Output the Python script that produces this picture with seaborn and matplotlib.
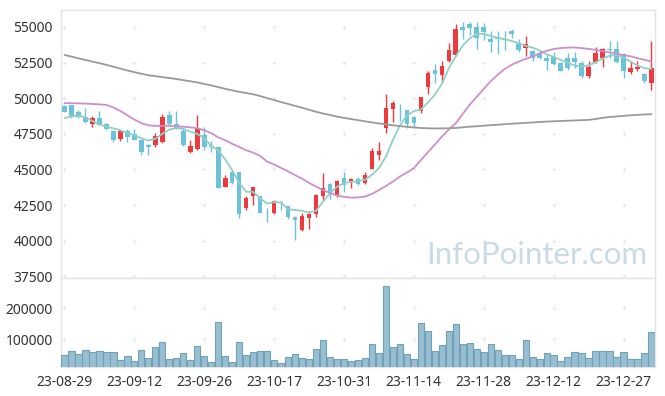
import pandas as pd
import seaborn as sns
import matplotlib.pyplot as plt

# daily candles (KRW), 85 trading days from 23-08-29
opens = [49460, 49500, 49000, 48700, 48220, 48600, 48200, 47700, 47150, 47680,
         47500, 47100, 46750, 46750, 46900, 48830, 48170, 47730, 46230, 46460,
         47420, 46650, 46580, 43800, 44830, 44830, 42320, 43160, 43140, 42030,
         41970, 42700, 42440, 41670, 40750, 41580, 41860, 43160, 44010, 43160,
         44400, 44220, 44300, 44030, 45060, 46000, 47940, 49250, 49200, 49180,
         48710, 49110, 50770, 51990, 51640, 52620, 53040, 54980, 55190, 54980,
         54980, 54160, 54180, 54160, 54720, 53790, 53550, 53320, 53200, 52850,
         52920, 52500, 52830, 52830, 52460, 51590, 52570, 52850, 53460, 53440,
         53090, 51870, 52080, 51710, 51050]
highs = [49500, 49550, 49200, 49300, 48750, 49100, 48250, 47750, 47750, 47850,
         47850, 47150, 46800, 47550, 48900, 49130, 49100, 47940, 47070, 48830,
         47960, 46980, 46600, 44600, 44850, 44850, 43160, 43800, 43150, 42320,
         42860, 42750, 42450, 41700, 41930, 42110, 43300, 44740, 44050, 44250,
         44850, 44400, 44500, 44850, 46490, 46910, 50280, 49790, 49580, 49200,
         48750, 50100, 51920, 52390, 52640, 53860, 55190, 55330, 55350, 55330,
         55300, 54750, 54750, 54750, 54860, 54160, 54400, 53350, 53330, 53110,
         53270, 52550, 53160, 53230, 52620, 52640, 53580, 53500, 54040, 54040,
         53150, 52640, 52640, 51750, 54040]
lows = [49000, 48600, 48600, 48250, 48000, 48100, 47750, 46950, 47000, 46950,
        47050, 46000, 46000, 46600, 46850, 48030, 47850, 46650, 46150, 46350,
        46400, 46250, 43700, 43750, 44000, 41580, 42140, 42500, 41950, 41340,
        41900, 42150, 41550, 40030, 40700, 40800, 41690, 42790, 42910, 43100,
        43440, 43700, 43900, 44000, 45000, 45670, 47540, 48360, 48430, 47890,
        47940, 48950, 50280, 51100, 51050, 52530, 52990, 54160, 54440, 53460,
        54090, 53230, 53110, 53390, 54250, 53230, 52990, 52620, 52750, 51990,
        52340, 51900, 51990, 52110, 51400, 51400, 52500, 52180, 52850, 52500,
        51400, 51710, 51940, 51050, 50580]
closes = [49060, 48650, 48650, 48300, 48620, 48150, 47820, 47100, 47700, 47300,
          47100, 46250, 46550, 47330, 48700, 48220, 47900, 46720, 46650, 47890,
          46560, 46550, 43720, 44400, 44070, 41900, 43000, 43770, 41970, 41980,
          42790, 42650, 41690, 41420, 41740, 41880, 43210, 43690, 43330, 44200,
          43910, 44330, 43960, 44620, 46320, 46300, 49340, 49690, 49150, 48200,
          48290, 50070, 51780, 51690, 52270, 53390, 54860, 54820, 54960, 54250,
          54680, 53970, 54150, 54100, 54490, 53410, 53810, 52810, 52810, 52600,
          52410, 51940, 52150, 52550, 51590, 52180, 53160, 53440, 53420, 52570,
          51940, 52110, 52220, 51240, 52150]
volumes = [48400, 61300, 51600, 64500, 58100, 61300, 58100, 58100, 32300, 45200,
           29000, 64500, 38700, 74200, 90300, 35500, 38700, 54800, 32300, 77400,
           45200, 25800, 154800, 45200, 25800, 90300, 48400, 58100, 61300, 61300,
           32300, 22600, 41900, 51600, 38700, 35500, 67700, 96800, 41800, 35400,
           35400, 28900, 32200, 38600, 83800, 54700, 271900, 74100, 83800, 51500,
           35400, 151600, 125800, 61300, 80600, 125800, 148400, 83800, 87100, 67700,
           58000, 83800, 64500, 48400, 48400, 35400, 96800, 41800, 35400, 54700,
           48400, 28900, 41800, 58000, 54700, 38600, 61300, 61300, 61300, 41800,
           58000, 35400, 35400, 54700, 122600]
ma5 = [48600, 48740, 48780, 48640, 48400, 48170, 48000, 47890, 47750, 47550,
       47400, 47190, 47030, 47150, 47500, 47800, 47900, 47850, 47650, 47500,
       47200, 46650, 46350, 45700, 44950, 44050, 43440, 43420, 42980, 42600,
       42710, 42680, 42200, 42150, 42100, 41970, 42100, 42740, 43350, 43780,
       44050, 44130, 44170, 44280, 44620, 45100, 45900, 47070, 48100, 48780,
       49100, 49200, 49700, 50250, 51000, 52100, 52950, 53700, 54200, 54520,
       54500, 54380, 54230, 54150, 54020, 53860, 53680, 53550, 53350, 53080,
       52900, 52690, 52500, 52300, 52220, 52300, 52520, 52780, 52980, 53040,
       52860, 52570, 52290, 52110, 52060]
ma20 = [49650, 49650, 49640, 49620, 49600, 49570, 49530, 49350, 49100, 48800,
        48500, 48250, 48100, 48060, 48060, 48060, 48040, 48000, 47950, 47900,
        47750, 47550, 47250, 47050, 46800, 46580, 46350, 46180, 45950, 45550,
        45350, 45100, 44870, 44600, 44350, 44050, 43800, 43550, 43350, 43180,
        43080, 43020, 43040, 43100, 43280, 43550, 43840, 44150, 44500, 44780,
        45100, 45650, 46200, 46750, 47300, 47800, 48240, 48900, 49550, 50100,
        50650, 51200, 51650, 52050, 52350, 52570, 52760, 52920, 53150, 53330,
        53450, 53520, 53550, 53560, 53520, 53460, 53400, 53300, 53220, 53130,
        53030, 52940, 52810, 52700, 52570]
ma120 = [53040, 52920, 52800, 52690, 52570, 52460, 52340, 52210, 52080, 51950,
         51830, 51720, 51610, 51550, 51480, 51420, 51350, 51270, 51190, 51110,
         51000, 50900, 50780, 50660, 50550, 50450, 50360, 50280, 50150, 50010,
         49870, 49730, 49600, 49460, 49330, 49190, 49050, 48930, 48820, 48710,
         48620, 48540, 48460, 48380, 48300, 48230, 48170, 48100, 48040, 47990,
         47950, 47910, 47890, 47880, 47880, 47890, 47910, 47960, 48000, 48030,
         48070, 48110, 48140, 48180, 48210, 48240, 48270, 48300, 48330, 48360,
         48380, 48400, 48420, 48440, 48460, 48480, 48540, 48620, 48680, 48720,
         48760, 48800, 48830, 48860, 48880]
date_labels = ["23-08-29", "23-09-12", "23-09-26", "23-10-17", "23-10-31",
               "23-11-14", "23-11-28", "23-12-12", "23-12-27"]
price_ticks = [37500, 40000, 42500, 45000, 47500, 50000, 52500, 55000]
volume_ticks = [100000, 200000]

df = pd.DataFrame({"open": opens, "high": highs, "low": lows, "close": closes,
                   "volume": volumes, "ma5": ma5, "ma20": ma20, "ma120": ma120})
df["idx"] = range(len(df))
df["up"] = df["close"] >= df["open"]
label_pos = list(range(0, len(df), 10))

sns.set_style("white")
plt.rcParams["font.family"] = ["Noto Sans", "DejaVu Sans"]

UP, DOWN = "#ee3a3f", "#6cc3d9"
GRID = "#e6e6e6"

fig = plt.figure(figsize=(6.65, 3.96), dpi=100)
ax = fig.add_axes([0.0917, 0.298, 0.8932, 0.677])
axv = fig.add_axes([0.0917, 0.0732, 0.8932, 0.2247])

# candles
colors = df["up"].map({True: UP, False: DOWN})
ax.vlines(df["idx"], df["low"], df["high"], colors=colors, lw=1, zorder=3)
body_low = df[["open", "close"]].min(axis=1)
body_h = (df["close"] - df["open"]).abs().clip(lower=45)
ax.bar(df["idx"], body_h, bottom=body_low, width=0.66, color=colors, lw=0, zorder=4)

# moving averages
sns.lineplot(data=df, x="idx", y="ma5", ax=ax, color="#8fd0c6", lw=1.3, zorder=5)
sns.lineplot(data=df, x="idx", y="ma20", ax=ax, color="#cc8fca", lw=1.3, zorder=5)
sns.lineplot(data=df, x="idx", y="ma120", ax=ax, color="#9a9a9a", lw=1.3, zorder=5)

# volume
sns.barplot(data=df, x="idx", y="volume", ax=axv, color="#97bfd1", saturation=1,
            edgecolor="#72a0b7", linewidth=0.8, width=0.9, zorder=3)

for a in (ax, axv):
    a.set_xlim(-0.5, len(df) - 0.5)
    a.set_xlabel("")
    a.set_ylabel("")
    a.tick_params(length=0, labelsize=10, labelcolor="#333333", pad=6)
    for s in a.spines.values():
        s.set_color("#e4e4e4")
        s.set_linewidth(1)

ax.set_ylim(37380, 56200)
ax.set_yticks(price_ticks)
ax.set_xticks([])
axv.set_ylim(9700, 296800)
axv.set_yticks(volume_ticks)
axv.set_xticks(label_pos)
axv.set_xticklabels(date_labels)

# little "+" marks at grid crossings
gx = [p for p in label_pos for _ in price_ticks]
gy = [t for _ in label_pos for t in price_ticks]
ax.scatter(gx, gy, marker="+", s=9, color=GRID, lw=0.7, zorder=1, clip_on=False)
gx = [p for p in label_pos for _ in volume_ticks]
gy = [t for _ in label_pos for t in volume_ticks]
axv.scatter(gx, gy, marker="+", s=9, color=GRID, lw=0.7, zorder=1)

ax.text(0.987, 0.085, "InfoPointer.com", transform=ax.transAxes, ha="right",
        va="center", fontsize=22.5, color="#c8dbe7", family=["Lato", "DejaVu Sans"],
        zorder=2)

fig.savefig("out.png", dpi=100)
